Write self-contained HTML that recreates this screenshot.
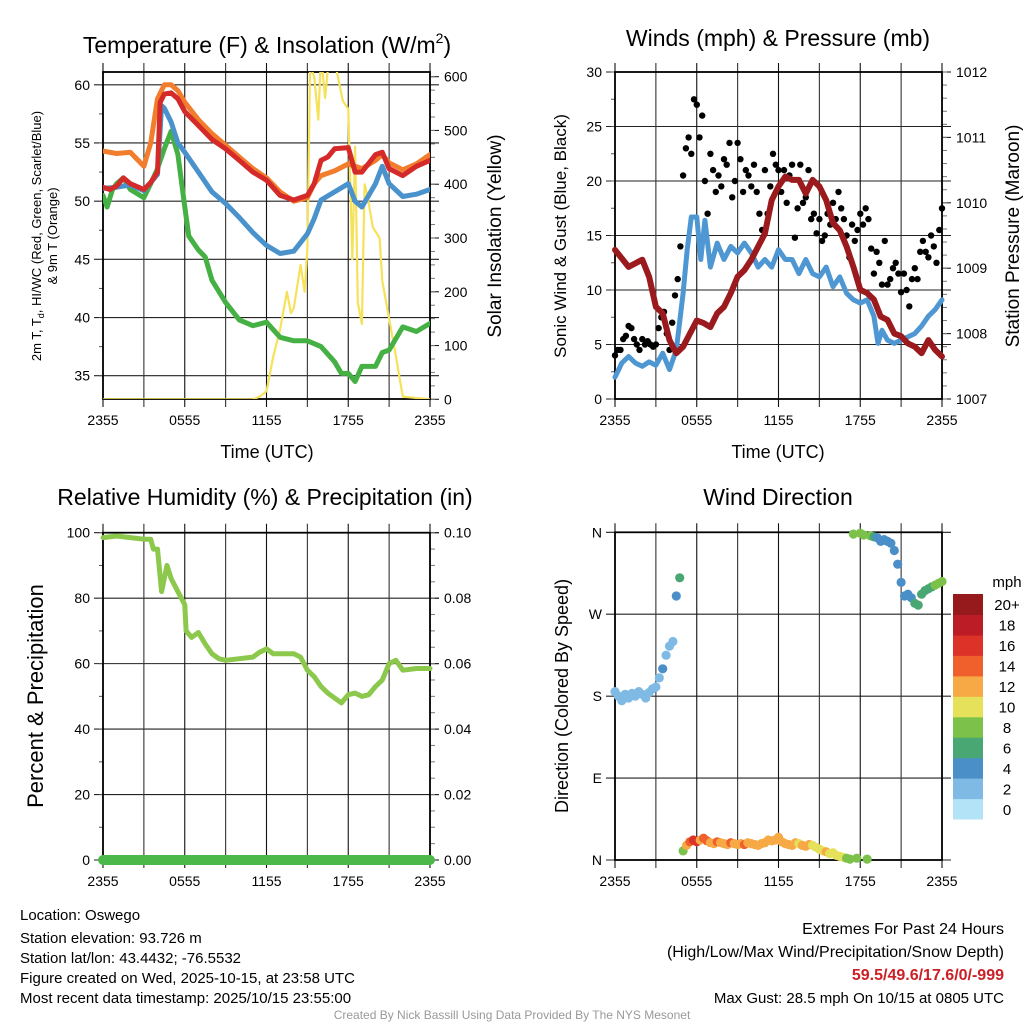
<!DOCTYPE html>
<html><head><meta charset="utf-8">
<style>
html,body{margin:0;padding:0;background:#fff;}
svg{display:block;font-family:"Liberation Sans",Arial,sans-serif;}
</style></head>
<body>
<svg id="chart" width="1024" height="1024" viewBox="0 0 1024 1024" xmlns="http://www.w3.org/2000/svg"></svg>
<script>
// ---------- DATA ----------
const timeLabels = ["2355","0555","1155","1755","2355"];
// Temperature panel (time in hours since 2355)
const orangeT = [0,1,2,3,3.5,4,4.5,5,5.5,6,7,8,9,10,11,12,13,14,15,15.5,16,17,18,19,20,20.5,21,22,23,24];
const orangeV = [54.3,54.1,54.2,53.0,55,58.8,60,60,59.5,58.5,57,55.8,54.8,53.8,52.8,52,50.8,50,50.3,51.5,52.2,52.6,53.2,52.8,53.5,54,53.3,52.7,53.2,54];
const redT = [0,0.5,1,1.5,2,3,3.5,4,4.2,4.5,5,5.5,6,7,8,9,10,11,12,13,14,15,15.5,16,16.5,17,18,18.5,19,20,20.5,21,22,23,24];
const redV = [51.2,51,51.3,52,51.5,51,51.6,52.5,58.5,59.2,59.3,58.8,57.7,56.5,55.3,54.5,53.5,52.5,51.8,50.5,50.1,50.5,51.5,53.5,53.8,54.5,54.6,52.5,52.5,54,54.2,52.8,52.2,53,53.5];
const blueT = [0,1,2,3,4,4.3,4.5,5,5.5,6,7,8,9,10,11,12,13,14,15,15.5,16,17,18,18.5,19,20,20.5,21,22,23,24];
const blueV = [51.1,51.2,51.4,50.9,52.3,58.2,58,56.8,55,54.2,52.5,50.8,49.8,48.6,47.3,46.2,45.5,45.7,47.2,48.5,50.1,50.8,51.5,50,49.5,51.5,53,51.5,50.4,50.6,51];
const greenT = [0,0.3,0.7,1,1.5,2,3,3.5,4,4.5,5,5.5,6,6.3,7,7.5,8,9,10,11,12,13,14,15,16,17,17.5,18,18.5,19,20,20.5,21,22,23,24];
const greenV = [50.5,49.5,51,51.5,52,51,50.3,51.5,52.8,54.5,56,54,49.5,47,45.8,45.2,43.2,41.3,39.8,39.3,39.6,38.3,38,38,37.5,36.2,35.2,35.2,34.5,35.8,35.8,37,37.2,39.2,38.8,39.5];
const solarT = [0,11,11.5,12,12.5,13,13.5,13.8,14,14.5,14.8,15,15.2,15.5,15.8,16,16.3,16.6,17,17.6,18,18.3,18.5,18.7,19,19.2,19.4,19.8,20.3,20.5,21,21.5,22,24];
const solarV = [0,0,5,15,80,130,200,160,170,250,200,280,620,600,520,640,560,640,630,555,540,260,470,180,140,400,380,320,300,220,150,80,5,0];
// Winds panel
const windT = [0,0.5,1,1.5,2,2.5,3,3.5,4,4.5,5,5.3,5.6,6,6.3,6.6,7,7.5,8,8.5,9,9.5,10,10.5,11,11.5,12,12.5,13,13.5,14,14.5,15,15.5,16,16.5,17,17.5,18,18.5,19,19.3,19.6,20,20.5,21,21.5,22,22.5,23,23.5,24];
const windV = [2,3.3,3.9,3.3,3.0,3.4,3.1,4.2,2.7,4.5,9.7,13.7,16.7,16.7,12.8,16.4,12.1,14.3,12.8,14,13.4,14.3,13.4,12.1,12.8,12.1,13.7,12.8,12.8,11.5,12.8,11.5,11.2,12.1,10.3,11.2,9.7,9.1,8.8,9.1,7.6,5.1,6.3,5.4,5.1,5.4,5.7,6.0,6.7,7.6,8.2,9.1];
const gustV = [4,4.5,4.5,5.5,5.8, 6.7,6.5,5.5,5,4.5, 5.5,5,5.3,5,4.8, 5,6.5,7.5,8,6, 4.5,7,9.5,11,14, 20.5,23,24,22.5,27.5, 27,24,26,20,17, 22.5,21,19,20.5,19.5, 22,21.5,23.5,18.5,20, 23.5,22,19,21,20.5, 19.5,21.5,19,17,15.5, 21,17,19.5,22.5,21.5, 21,19,21,18,20.5, 21.5,14.8,17.5,21.5,18, 18.5,21,16.5,17,15.2, 16.5,14.5,15,17,16, 18,16.5,19,17.5,16.5, 15,13,16,14.5,15.5, 17,16,17.5,16.5,13.8, 11.5,13.5,12.5,10.5,14.5, 10.5,11,12,12.5,11.5, 9.8,11.5,10,8.5,11, 12,11,13.5,14.5,13.5, 13,15,14,12.5,15.5, 17.5];
const presT = [0,1,2,2.5,3,3.5,4,4.5,5,5.5,6,6.5,7,7.5,8,8.5,9,9.5,10,10.5,11,11.5,12,12.5,13,13.5,14,14.5,15,15.5,16,16.5,17,17.5,18,18.5,19,19.5,20,20.5,21,21.5,22,22.5,23,23.5,24];
const presV = [1009.28,1009.02,1009.13,1008.87,1008.41,1008.31,1007.9,1007.7,1007.8,1008.0,1008.2,1008.16,1008.1,1008.31,1008.41,1008.62,1008.87,1008.97,1009.13,1009.33,1009.53,1010.04,1010.25,1010.4,1010.35,1010.35,1010.14,1010.35,1010.25,1010.04,1009.69,1009.58,1009.33,1009.02,1008.67,1008.62,1008.52,1008.26,1008.21,1008.0,1007.96,1007.85,1007.8,1007.7,1007.9,1007.75,1007.65];
// RH panel
const rhT = [0,1,2,3,3.5,3.7,4,4.3,4.7,5,5.5,6,6.1,6.5,7,7.5,8,8.5,9,10,11,11.5,12,12.5,13,14,14.5,15,15.5,16,16.5,17,17.5,18,18.5,19,19.5,20,20.5,21,21.5,22,23,24];
const rhV = [98.5,99,98.5,98,98,95,95,82,90,86,82,78,70,68,69.5,66,63,61.5,61,61.5,62,63.5,64.5,63,63,63,62,58,56,53,51,49.5,48,50.5,51,50,50.5,53,55,60,61,58,58.5,58.5];
const precipT = [0,24];
const precipV = [0,0];
// Wind direction panel (degrees, step 0.25 h)
const dirV = [185,180,175,182,178,183,180,185,182,178,184,188,190, 200,210,225,235, 240,290,310,
 10,16,20,22,20,22,24,21,19,18, 20,19,18,17,19,18,17,18,17,19, 18,17,16,18,19,22,21,22,25,20, 18,17,16,19,18,16,15,17,16,14, 12,10,9,7,8,5,4,3,2,1,
 358,2,359,357,1,356,355,354,350,352,350,348,340,325,305,290,292,288,282,280,292,296,298,300,302,304,306];
const dirLabels = ["N","E","S","W","N"];
const speedBins = ["0","2","4","6","8","10","12","14","16","18","20+"];
const speedColors = ["#b3e3f7","#7ebae4","#4a8fc7","#49a773","#7cc24a","#e5e15a","#f6a945","#ef602c","#dd3228","#bb1c25","#961a1c"];

// ---------- HELPERS ----------
const NS="http://www.w3.org/2000/svg";
const svg=document.getElementById('chart');
function mk(tag,parent){const e=document.createElementNS(NS,tag);(parent||svg).appendChild(e);return e;}
function setA(e,o){for(const k in o)e.setAttribute(k,o[k]);return e;}
function txt(parent,x,y,s,size,anchor,extra){const t=mk('text',parent);setA(t,{x:x,y:y,'font-size':size,'text-anchor':anchor||'middle',fill:'#000'});if(extra)setA(t,extra);t.textContent=s;return t;}
function interp(ts,vs,t){if(t<=ts[0])return vs[0];for(let i=1;i<ts.length;i++){if(t<=ts[i]){const f=(t-ts[i-1])/(ts[i]-ts[i-1]);return vs[i-1]+f*(vs[i]-vs[i-1]);}}return vs[vs.length-1];}

const X0=103,X1=430,X0b=615,X1b=942;
function xs(x0,x1){return t=>x0+(x1-x0)*t/24;}
function ys(top,bot,vmin,vmax){return v=>bot-(v-vmin)/(vmax-vmin)*(bot-top);}

function frame(g,x0,x1,top,bot,yTicks,ySc,yLab,minorLeft,rTicks,rSc,rLab,minorRight){
  yTicks.forEach((v,i)=>{const y=ySc(v);const l=mk('line',g);setA(l,{x1:x0-9,x2:x1+9,y1:y,y2:y,stroke:'#222','stroke-width':1.1});
    
    const t=txt(g,x0-13,y+5,yLab[i],14,'end');});
  minorLeft.forEach(v=>{const y=ySc(v);const l=mk('line',g);setA(l,{x1:x0-4,x2:x0,y1:y,y2:y,stroke:'#555','stroke-width':1});});
  if(rTicks){rTicks.forEach((v,i)=>{const y=rSc(v);const l=mk('line',g);setA(l,{x1:x1,x2:x1+9,y1:y,y2:y,stroke:'#222','stroke-width':1.1});
    const t=txt(g,x1+14,y+5,rLab[i],14,'start');});
    minorRight.forEach(v=>{const y=rSc(v);const l=mk('line',g);setA(l,{x1:x1,x2:x1+5,y1:y,y2:y,stroke:'#777','stroke-width':1});});}
  for(let k=0;k<=8;k++){const x=x0+(x1-x0)*k/8;const l=mk('line',g);setA(l,{x1:x,x2:x,y1:top-9,y2:bot+8,stroke:k%2?'#333':'#111','stroke-width':1.1});
    }
  timeLabels.forEach((s,i)=>{const x=x0+(x1-x0)*i/4;const t=txt(g,x,bot+26,s,14,'middle');});
  const b=mk('rect',g);setA(b,{x:x0,y:top,width:x1-x0,height:bot-top,fill:'none',stroke:'#000','stroke-width':1.8});
  
}
function path(g,ts,vs,xf,yf,color,w){const p=mk('path',g);let d='';ts.forEach((t,i)=>{d+=(i?'L':'M')+xf(t).toFixed(1)+','+yf(vs[i]).toFixed(1);});setA(p,{d:d,fill:'none',stroke:color,'stroke-width':w,'stroke-linejoin':'round','stroke-linecap':'round'});return p;}
function range(a,b,s){const r=[];for(let v=a;v<=b+1e-9;v+=s)r.push(+v.toFixed(4));return r;}

// ---------- PANEL 1: Temperature ----------
(function(){
  const g=mk('g');
  const top=72,bot=399;
  const xf=xs(X0,X1);const yf=ys(top,bot,33.0,61.1);const sf=ys(76.7,399.3,0,600);
  const clip=mk('clipPath');clip.setAttribute('id','c1');setA(mk('rect',clip),{x:X0,y:top,width:X1-X0,height:bot-top});
  frame(g,X0,X1,top,bot,[35,40,45,50,55,60],yf,["35","40","45","50","55","60"],range(35,60,2.5),[0,100,200,300,400,500,600],sf,["0","100","200","300","400","500","600"],range(0,600,25));
  const s=mk('g',g);s.setAttribute('clip-path','url(#c1)');
  let p=path(s,solarT,solarV,xf,sf,'#f6e25a',2.2);
  p=path(s,greenT,greenV,xf,yf,'#45b043',5);
  p=path(s,blueT,blueV,xf,yf,'#4a92cc',5);
  p=path(s,orangeT,orangeV,xf,yf,'#f27d2d',5);
  p=path(s,redT,redV,xf,yf,'#d42a2a',5);
  let t=txt(g,267,53,'Temperature (F) & Insolation (W/m',23,'middle');
  const sp=mk('tspan',t);setA(sp,{'font-size':14,dy:-10});sp.textContent='2';const sp2=mk('tspan',t);setA(sp2,{dy:10});sp2.textContent=')';
  t=txt(g,267,458,'Time (UTC)',18);
  t=txt(g,0,0,'2m T, T',13,'middle',{transform:'translate(41,236) rotate(-90)'});
  const sub=mk('tspan',t);setA(sub,{'font-size':9,dy:3});sub.textContent='d';const rest=mk('tspan',t);setA(rest,{dy:-3});rest.textContent=', HI/WC (Red, Green, Scarlet/Blue)';
  t=txt(g,0,0,'& 9m T (Orange)',13,'middle',{transform:'translate(57,236) rotate(-90)'});
  t=txt(g,0,0,'Solar Insolation (Yellow)',19,'middle',{transform:'translate(501,236) rotate(-90)'});
})();

// ---------- PANEL 2: Winds ----------
(function(){
  const g=mk('g');
  const top=72,bot=399;
  const xf=xs(X0b,X1b);const yf=ys(top,bot,0,30);const pf=ys(top,bot,1007,1012);
  const clip=mk('clipPath');clip.setAttribute('id','c2');setA(mk('rect',clip),{x:X0b-4,y:top-4,width:X1b-X0b+8,height:bot-top+8});
  frame(g,X0b,X1b,top,bot,[0,5,10,15,20,25,30],yf,["0","5","10","15","20","25","30"],range(0,30,2.5),[1007,1008,1009,1010,1011,1012],pf,["1007","1008","1009","1010","1011","1012"],range(1007,1012,0.2));
  const s=mk('g',g);s.setAttribute('clip-path','url(#c2)');
  let p=path(s,windT,windV,xf,yf,'#4f97d2',5);
  gustV.forEach((v,i)=>{const c=mk('circle',s);setA(c,{cx:xf(i*0.2).toFixed(1),cy:yf(v).toFixed(1),r:3.2,fill:'#000'});
    });
  p=path(s,presT,presV,xf,pf,'#9a1a1d',6);
  let t=txt(g,778,46,'Winds (mph) & Pressure (mb)',23);
  t=txt(g,778,458,'Time (UTC)',18);
  t=txt(g,0,0,'Sonic Wind & Gust (Blue, Black)',17,'middle',{transform:'translate(566,236) rotate(-90)'});
  t=txt(g,0,0,'Station Pressure (Maroon)',19,'middle',{transform:'translate(1019,236) rotate(-90)'});
})();

// ---------- PANEL 3: RH ----------
(function(){
  const g=mk('g');
  const top=532.7,bot=860;
  const xf=xs(X0,X1);const yf=ys(top,bot,0,100);const pf=ys(top,bot,0,0.1);
  frame(g,X0,X1,top,bot,[0,20,40,60,80,100],yf,["0","20","40","60","80","100"],range(0,100,10),[0,0.02,0.04,0.06,0.08,0.1],pf,["0.00","0.02","0.04","0.06","0.08","0.10"],range(0,0.1,0.005));
  let p=path(g,rhT,rhV,xf,yf,'#8cc84b',5);
  p=path(g,precipT,precipV,xf,pf,'#4cb84a',10);
  let t=txt(g,265,505,'Relative Humidity (%) & Precipitation (in)',23);
  t=txt(g,0,0,'Percent & Precipitation',22,'middle',{transform:'translate(43,696) rotate(-90)'});
})();

// ---------- PANEL 4: Wind direction ----------
(function(){
  const g=mk('g');
  const top=532.3,bot=860;
  const xf=xs(X0b,X1b);const yf=ys(top,bot,0,360);
  frame(g,X0b,X1b,top,bot,[0,90,180,270,360],yf,dirLabels,[],null);
  dirV.forEach((d,i)=>{const tt=i*0.25;const sp=interp(windT,windV,tt);let b=Math.min(10,Math.max(0,Math.floor(sp/2)));
    const c=mk('circle',g);setA(c,{cx:xf(tt).toFixed(1),cy:yf(d).toFixed(1),r:4.6,fill:speedColors[b]});
    });
  let t=txt(g,778,505,'Wind Direction',23);
  t=txt(g,0,0,'Direction (Colored By Speed)',18,'middle',{transform:'translate(568,696) rotate(-90)'});
  const cb=mk('g',g);
  const cbTop=594,cbH=225/11;
  speedBins.forEach((lab,i)=>{const j=10-i;const r=mk('rect',cb);setA(r,{x:953,y:(cbTop+j*cbH).toFixed(1),width:30,height:(cbH+0.5).toFixed(1),fill:speedColors[i]});
    
    const tl=txt(cb,1007,cbTop+j*cbH+cbH/2+6,lab,15,'middle');});
  t=txt(cb,1007,587,'mph',15,'middle');
})();

// ---------- FOOTER ----------
(function(){
  const g=mk('g');
  const left=["Location: Oswego","Station elevation: 93.726 m","Station lat/lon: 43.4432; -76.5532","Figure created on Wed, 2025-10-15, at 23:58 UTC","Most recent data timestamp: 2025/10/15 23:55:00"];
  const ly=[920,943,963,983,1003];
  left.forEach((s,i)=>{const t=txt(g,20,ly[i],s,15,'start');});
  let t=txt(g,1004,934,'Extremes For Past 24 Hours',16,'end');
  t=txt(g,1004,957,'(High/Low/Max Wind/Precipitation/Snow Depth)',16,'end');
  t=txt(g,1004,980,'59.5/49.6/17.6/0/-999',16,'end',{fill:'#cc2027','font-weight':'bold'});
  t=txt(g,1004,1003,'Max Gust: 28.5 mph On 10/15 at 0805 UTC',15,'end');
  t=txt(g,512,1019,'Created By Nick Bassill Using Data Provided By The NYS Mesonet',12,'middle',{fill:'#999'});
})();
</script>
</body></html>
